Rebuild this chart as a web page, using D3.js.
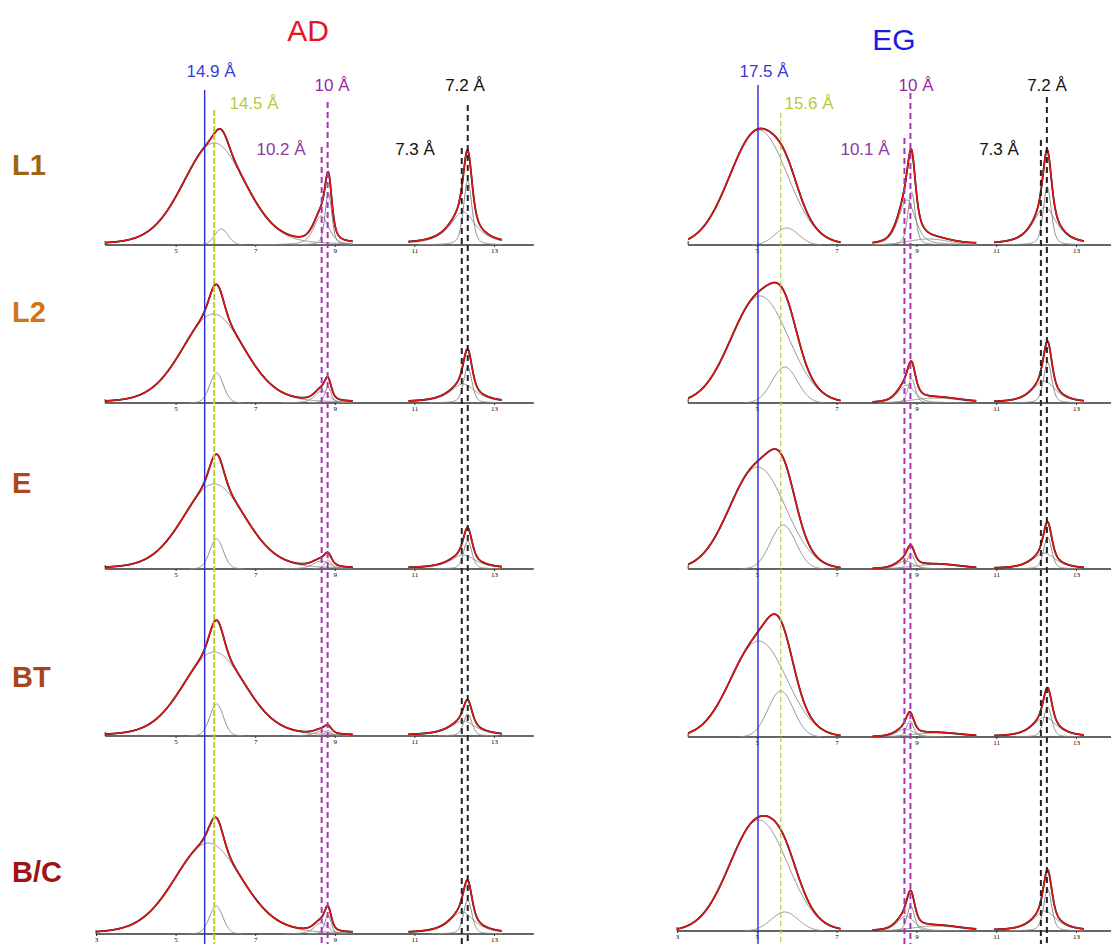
<!DOCTYPE html>
<html><head><meta charset="utf-8">
<script src="https://cdn.jsdelivr.net/npm/d3@7"></script>
<style>body{margin:0;background:#fff}</style>
</head><body><svg id="c" width="1111" height="944"></svg>
<script>
// ---------------- DATA ----------------
const panelTitles = ["AD", "EG"];
const rowLabels = ["L1", "L2", "E", "BT", "B/C"];
const xTicksTop = [5, 7, 9, 11, 13];
const xTicksBottom = [3, 5, 7, 9, 11, 13];

// fitted components per row: [centre °2θ, height, FWHM, Lorentz fraction]
const adL1 = [[5.97,102,1.85,0.2],[6.15,16,0.4,0.1],[8.66,29,0.45,0.5],[8.84,52,0.2,0.4],[12.22,33,0.8,0.9],[12.34,64,0.25,0.4]];
const adL2 = [[5.95,89,1.85,0.2],[6.03,30,0.4,0.1],[8.67,12,0.42,0.5],[8.83,16,0.19,0.4],[12.22,19,0.8,0.9],[12.34,36,0.25,0.4]];
const adE  = [[5.97,85,1.85,0.2],[6.03,30,0.4,0.1],[8.66,8,0.5,0.5],[8.83,9,0.2,0.4],[12.22,14,0.8,0.9],[12.34,28,0.25,0.4]];
const adBT = [[5.97,84,1.85,0.2],[6.03,32,0.4,0.1],[8.68,5,0.45,0.5],[8.83,5.5,0.2,0.4],[12.22,15,0.8,0.9],[12.34,22,0.25,0.4]];
const adBC = [[5.82,91,2.0,0.2],[6.02,28,0.4,0.1],[8.66,11,0.42,0.5],[8.83,19,0.19,0.4],[12.2,22,0.75,0.9],[12.34,34,0.25,0.4]];

const egL1 = [[5.05,115,1.7,0],[5.75,17,0.7,0],[8.76,45,0.5,0.5],[8.88,53,0.22,0.4],[9.3,6,1.2,0],[12.22,38,0.7,0.8],[12.28,58,0.24,0.4]];
const egL2 = [[5.08,107,1.7,0],[5.7,36,0.75,0],[8.75,18,0.5,0.5],[8.88,24,0.22,0.4],[9.5,5,1.4,0],[12.2,22,0.7,0.8],[12.29,41,0.24,0.4]];
const egE  = [[5.02,102,1.65,0],[5.66,44,0.75,0],[8.72,8,0.5,0.5],[8.86,15,0.22,0.4],[9.5,4.5,1.4,0],[12.2,16,0.7,0.8],[12.29,32,0.24,0.4]];
const egBT = [[5.05,96,1.65,0],[5.6,46,0.75,0],[8.72,8,0.5,0.5],[8.84,16,0.22,0.4],[9.5,4,1.4,0],[12.22,20,0.7,0.8],[12.29,30,0.24,0.4]];
const egBC = [[5.05,111,1.7,0],[5.7,19,0.8,0],[8.74,15,0.5,0.5],[8.86,25,0.22,0.4],[9.5,5,1.4,0],[12.22,20,0.7,0.8],[12.29,42,0.24,0.4]];

// measured windows (°2θ)
const adWindows = [[3.23, 9.45], [10.85, 13.2]];
const egWindows = [[3.28, 7.1], [7.9, 10.5], [10.95, 13.2]];

// reference d-spacings: label, position °2θ
const adRefLabels = ["14.9 Å", "14.5 Å", "10.2 Å", "10 Å", "7.3 Å", "7.2 Å"];
const adRefPos    = [5.73, 5.97, 8.67, 8.82, 12.19, 12.34];
const egRefLabels = ["17.5 Å", "15.6 Å", "10.1 Å", "10 Å", "7.3 Å", "7.2 Å"];
const egRefPos    = [5.03, 5.6, 8.7, 8.85, 12.12, 12.27];

// ---------------- LAYOUT / STYLE ----------------
const svg = d3.select("#c");
const rowBase = {AD: [245, 403, 569, 736, 934], EG: [245, 403, 569, 737, 931]};
const rowLabelColors = ["#a0650f", "#d2731a", "#b0441a", "#a8451b", "#9c1414"];
const rowLabelY = [175, 322, 493, 687, 882];

const refStyles = [
  {color: "#2b2bd2", dash: null, w: 1.4, tcolor: "#3a3ad8"},
  {color: "#b9cf2c", dash: "6,2", w: 2, tcolor: "#b5cc3a"},
  {color: "#a833b0", dash: "6,4", w: 2, tcolor: "#8e3a9c"},
  {color: "#a833b0", dash: "6,4", w: 2, tcolor: "#9a2aa6"},
  {color: "#222", dash: "6,4", w: 2, tcolor: "#111"},
  {color: "#222", dash: "6,4", w: 2, tcolor: "#111"}
];

const panels = [
  {key: "AD", title: panelTitles[0], tColor: "#e8141c", tx: 308, ty: 41,
   x: d3.scaleLinear().domain([3, 14]).range([96, 533.8]),
   rows: [adL1, adL2, adE, adBT, adBC], windows: adWindows,
   refLabels: adRefLabels, refPos: adRefPos,
   refTop: [90, 110, 147, 102, 148, 105],
   labX: [211, 254, 281, 332, 415, 465], labY: [77, 109, 155, 91, 155, 91],
   greenW: 2, greenDash: "6,2"},
  {key: "EG", title: panelTitles[1], tColor: "#1c1ce0", tx: 894, ty: 50,
   x: d3.scaleLinear().domain([3, 14]).range([677, 1115.9]),
   rows: [egL1, egL2, egE, egBT, egBC], windows: egWindows,
   refLabels: egRefLabels, refPos: egRefPos,
   refTop: [85, 113, 138, 93, 140, 97],
   labX: [764, 809, 865, 916, 999, 1047], labY: [77, 109, 155, 91, 155, 91],
   greenW: 1.2, greenDash: "5,3"}
];

function pv(x, p) {
  const [c, h, w, eta] = p;
  const u = (x - c) / w;
  return h * (eta / (1 + 4 * u * u) + (1 - eta) * Math.exp(-4 * Math.LN2 * u * u));
}

// row labels
rowLabels.forEach((t, i) => {
  svg.append("text").attr("x", 12).attr("y", rowLabelY[i])
    .attr("font-family", "Liberation Sans, Arial, sans-serif")
    .attr("font-weight", "bold").attr("font-size", 29)
    .attr("fill", rowLabelColors[i]).text(t);
});

panels.forEach(P => {
  const x = P.x;
  svg.append("text").attr("x", P.tx).attr("y", P.ty).attr("text-anchor", "middle")
    .attr("font-family", "Liberation Sans, Arial, sans-serif").attr("font-size", 30)
    .attr("fill", P.tColor).text(P.title);

  P.rows.forEach((comps, ri) => {
    const base = rowBase[P.key][ri];
    const y = d3.scaleLinear().domain([0, 130]).range([base, base - 130]);
    const last = ri === P.rows.length - 1;
    const wins = P.windows.map((w, k) => k === 0 ? [last ? 3.0 : w[0], w[1]] : w);
    const g = svg.append("g");

    // axis
    const axStart = last ? 3.0 : P.windows[0][0];
    g.append("line").attr("x1", x(axStart)).attr("x2", Math.min(1111, x(14)))
      .attr("y1", base).attr("y2", base).attr("stroke", "#333").attr("stroke-width", 1.5);
    g.append("line").attr("x1", x(axStart)).attr("x2", x(axStart))
      .attr("y1", base).attr("y2", base - 4).attr("stroke", "#333").attr("stroke-width", 1);
    const ax = d3.axisBottom(x).tickValues(last ? xTicksBottom : xTicksTop)
      .tickSize(2).tickSizeOuter(0).tickFormat(d3.format("d"));
    const ag = g.append("g").attr("transform", `translate(0,${base})`).call(ax);
    ag.select(".domain").remove();
    ag.selectAll("line").attr("stroke", "#333");
    ag.selectAll("text").attr("font-size", 7).attr("font-family", "Liberation Serif, serif")
      .attr("fill", "#000").attr("y", 3).attr("dy", "0.71em");

    const line = d3.line().x(d => x(d[0])).y(d => y(d[1]));

    // components (gray)
    comps.forEach(p => {
      const win = wins.find(w => p[0] >= w[0] && p[0] <= w[1]) || wins[0];
      const pts = d3.range(win[0], win[1] + 0.001, 0.01).map(v => [v, pv(v, p)]).filter(d => d[1] > 0.25);
      g.append("path").attr("d", line(pts)).attr("fill", "none")
        .attr("stroke", "#8c8c8c").attr("stroke-width", 1);
    });

    // observed (black) and fit (red)
    wins.forEach(win => {
      const pts = d3.range(win[0], win[1] + 0.001, 0.01).map(v => [v, d3.sum(comps, p => pv(v, p))]);
      g.append("path").attr("d", line(pts)).attr("fill", "none")
        .attr("stroke", "#111").attr("stroke-width", 1.8);
      g.append("path").attr("d", line(pts)).attr("fill", "none")
        .attr("stroke", "#e41414").attr("stroke-width", 1.5);
    });
  });

  // reference lines
  P.refPos.forEach((pos, i) => {
    const st = refStyles[i];
    const ln = svg.append("line").attr("x1", x(pos)).attr("x2", x(pos))
      .attr("y1", P.refTop[i]).attr("y2", 944)
      .attr("stroke", st.color).attr("stroke-width", i === 1 ? P.greenW : st.w);
    const dash = i === 1 ? P.greenDash : st.dash;
    if (dash) ln.attr("stroke-dasharray", dash);
    svg.append("text").attr("x", P.labX[i]).attr("y", P.labY[i]).attr("text-anchor", "middle")
      .attr("font-family", "Liberation Sans, Arial, sans-serif").attr("font-size", 17)
      .attr("fill", st.tcolor).text(P.refLabels[i]);
  });
});
</script></body></html>
